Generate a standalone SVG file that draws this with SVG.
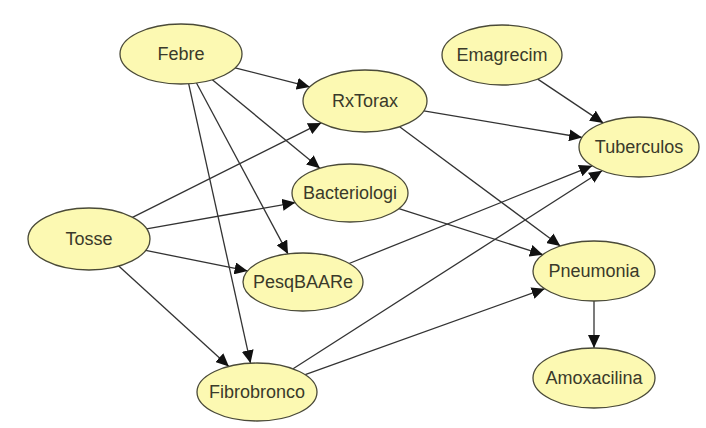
<svg xmlns="http://www.w3.org/2000/svg" width="706" height="428" viewBox="0 0 706 428">
  <style>
    .node ellipse { fill: #FCF9B2; stroke: #4A4A38; stroke-width: 1.3; }
    .node text { font-family: "Liberation Sans", Arial, sans-serif; font-size: 18px; fill: #3A3A2A; text-anchor: middle; }
    .edges line { stroke: #333333; stroke-width: 1.3; marker-end: url(#arrow); }
  </style>
  <defs>
    <marker id="arrow" markerUnits="userSpaceOnUse" markerWidth="14" markerHeight="12" refX="13" refY="6" orient="auto">
      <path d="M0,0 L13,6 L0,12 z" fill="#111111"/>
    </marker>
  </defs>
  <rect width="706" height="428" fill="#FFFFFF"/>

  <g class="edges" id="edges">
    <line x1="235.1" y1="67.8" x2="309.8" y2="86.9"/>
    <line x1="212.3" y1="79.8" x2="319.9" y2="168.2"/>
    <line x1="196.5" y1="83.0" x2="288.0" y2="253.9"/>
    <line x1="188.7" y1="83.8" x2="250.5" y2="363.2"/>
    <line x1="132.5" y1="217.3" x2="321.2" y2="122.9"/>
    <line x1="146.6" y1="228.8" x2="295.3" y2="202.6"/>
    <line x1="145.7" y1="250.4" x2="247.6" y2="270.9"/>
    <line x1="118.7" y1="266.1" x2="228.9" y2="366.4"/>
    <line x1="423.8" y1="110.9" x2="582.1" y2="137.5"/>
    <line x1="399.6" y1="126.7" x2="560.3" y2="246.0"/>
    <line x1="537.8" y1="79.1" x2="603.2" y2="122.9"/>
    <line x1="398.9" y1="208.6" x2="542.9" y2="254.7"/>
    <line x1="349.1" y1="263.5" x2="592.2" y2="165.8"/>
    <line x1="293.1" y1="368.8" x2="602.1" y2="170.7"/>
    <line x1="305.2" y1="374.7" x2="544.7" y2="288.7"/>
    <line x1="594" y1="301" x2="594" y2="348"/>
  </g>

  <g class="node" id="febre">
    <ellipse cx="181" cy="54" rx="61" ry="30"/>
    <text x="181" y="60">Febre</text>
  </g>
  <g class="node" id="rxtorax">
    <ellipse cx="365" cy="101" rx="62" ry="31"/>
    <text x="365" y="107">RxTorax</text>
  </g>
  <g class="node" id="emagrecim">
    <ellipse cx="502" cy="55" rx="60" ry="30"/>
    <text x="502" y="61">Emagrecim</text>
  </g>
  <g class="node" id="tuberculos">
    <ellipse cx="639" cy="147" rx="60" ry="30"/>
    <text x="639" y="153">Tuberculos</text>
  </g>
  <g class="node" id="tosse">
    <ellipse cx="89" cy="239" rx="61" ry="31"/>
    <text x="89" y="245">Tosse</text>
  </g>
  <g class="node" id="bacteriologi">
    <ellipse cx="350" cy="193" rx="58" ry="29"/>
    <text x="350" y="199">Bacteriologi</text>
  </g>
  <g class="node" id="pesqbaare">
    <ellipse cx="303" cy="282" rx="60" ry="29"/>
    <text x="303" y="288">PesqBAARe</text>
  </g>
  <g class="node" id="fibrobronco">
    <ellipse cx="257" cy="392" rx="60" ry="29"/>
    <text x="257" y="398">Fibrobronco</text>
  </g>
  <g class="node" id="pneumonia">
    <ellipse cx="594" cy="271" rx="61" ry="30"/>
    <text x="594" y="277">Pneumonia</text>
  </g>
  <g class="node" id="amoxacilina">
    <ellipse cx="594" cy="378" rx="61" ry="30"/>
    <text x="594" y="384">Amoxacilina</text>
  </g>
</svg>
